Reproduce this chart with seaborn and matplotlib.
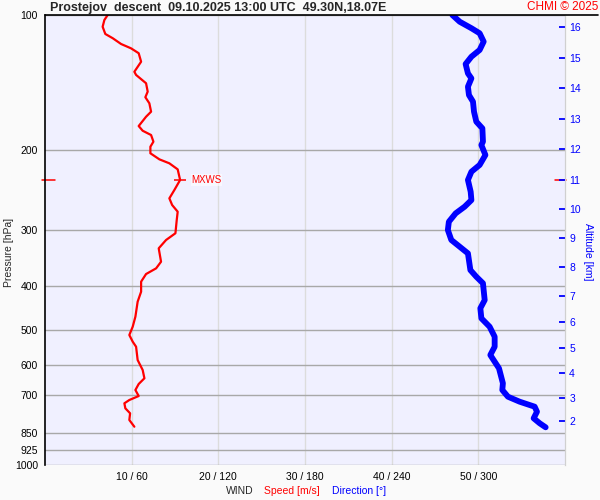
import numpy as np
import matplotlib
matplotlib.use("Agg")
import matplotlib.pyplot as plt
import matplotlib.transforms as mtransforms
from matplotlib.lines import Line2D
from matplotlib.ticker import NullLocator
import seaborn as sns

sns.set_style("white")
plt.rcParams['font.family'] = ['Liberation Sans', 'DejaVu Sans']

# wind speed profile (hPa, m/s)
speed_p = [100, 102.6, 106.2, 110.2, 112.6, 116.0, 118.6, 121.6, 127.0, 133.7,
           135.9, 141.8, 148.0, 152.3, 157.1, 164.0, 168.3, 176.5, 180.8, 184.8,
           191.2, 196.2, 202.9, 209.3, 213.6, 220.3, 232.6, 244.8, 255.5, 264.4,
           273.6, 285.5, 305.5, 316.2, 330.0, 353.4, 365.6, 376.4, 391.4, 412.0,
           433.6, 468.2, 492.8, 514.2, 532.1, 546.0, 584.4, 615.0, 641.7, 660.7,
           681.3, 702.6, 717.1, 729.3, 748.2, 767.6, 794.3, 822.1]
speed_ms = [7.23, 6.85, 6.65, 6.96, 7.81, 8.78, 9.93, 10.81, 11.09, 10.31,
            10.51, 11.66, 11.85, 11.58, 12.04, 12.24, 11.66, 10.81, 11.27, 12.24,
            12.51, 12.16, 12.16, 13.2, 14.35, 15.31, 15.59, 14.93, 14.35, 14.67,
            15.31, 15.2, 15.05, 13.97, 13.12, 13.39, 12.82, 11.66, 11.09, 11.09,
            10.69, 10.43, 10.12, 9.73, 10.12, 10.51, 10.69, 11.27, 11.47, 10.81,
            10.43, 10.81, 9.73, 9.16, 9.27, 9.82, 9.73, 10.31]

# wind direction profile (hPa, deg)
dir_p = [100, 103.5, 107.0, 109.8, 114.6, 119.6, 123.8, 128.5, 134.8, 138.3,
         144.3, 150.6, 155.8, 164.0, 172.6, 178.6, 191.2, 194.5, 204.7, 215.4,
         223.0, 232.6, 247.0, 257.8, 266.7, 275.9, 288.0, 300.5, 316.2, 327.3,
         338.6, 368.8, 381.6, 394.6, 430.0, 448.5, 472.1, 492.8, 518.7, 546.0,
         569.6, 589.4, 609.7, 658.3, 681.3, 705.1, 723.3, 742.0, 761.4, 787.4,
         807.8, 824.6]
dir_deg = [282.0, 287.1, 295.2, 300.9, 303.7, 300.9, 295.2, 291.2, 292.8, 295.2,
           292.8, 293.5, 296.3, 297.0, 298.6, 302.8, 303.2, 302.1, 304.9, 300.9,
           295.2, 292.8, 294.7, 295.2, 290.5, 284.3, 279.6, 278.9, 281.3, 287.1,
           292.8, 294.5, 298.6, 303.2, 304.4, 301.4, 302.1, 307.8, 311.3, 311.3,
           308.3, 311.3, 314.3, 317.0, 316.6, 320.5, 328.6, 339.0, 340.6, 338.3,
           342.5, 346.6]

p_ticks = [100, 200, 300, 400, 500, 600, 700, 850, 925, 1000]
speed_ticks = [10, 20, 30, 40, 50]
dir_ticks = [60, 120, 180, 240, 300]
alt_km = [16, 15, 14, 13, 12, 11, 10, 9, 8, 7, 6, 5, 4, 3, 2]
alt_p = [106.3, 124.8, 145.5, 170.2, 198.7, 232.3, 270.3, 313, 363, 420.5,
         481, 549, 623.5, 709, 798]

title = "Prostejov  descent  09.10.2025 13:00 UTC  49.30N,18.07E"

fig = plt.figure(figsize=(6, 5), dpi=100, facecolor="#fafafa")
ax = fig.add_axes([45 / 600, 35 / 500, 520 / 600, 450 / 500])
ax.set_facecolor("#f0f0ff")

# speed (red)
sns.lineplot(x=speed_ms, y=speed_p, orient="y", sort=False, estimator=None,
             color="red", linewidth=1.6, ax=ax)

# direction (blue) on a hidden twin x axis, 0..360
ax2 = ax.twiny()
sns.lineplot(x=dir_deg, y=dir_p, orient="y", sort=False, estimator=None,
             color="blue", linewidth=4.2, solid_capstyle="round", ax=ax2)
ax2.set_xlim(0, 360)
ax2.axis("off")

ax.set_yscale("log")
ax.set_ylim(1000, 100)
ax.set_xlim(0, 60)
ax.set_yticks(p_ticks, labels=[str(p) for p in p_ticks])
ax.yaxis.set_minor_locator(NullLocator())
ax.set_xticks(speed_ticks, labels=[f"{s} / {d}" for s, d in zip(speed_ticks, dir_ticks)])
ax.tick_params(length=0, labelsize=7.5, pad=5, colors="black")
ax.grid(axis="y", color="#a8a8a8", linewidth=1)
ax.grid(axis="x", color="#dcdcdc", linewidth=1)
ax.set_xlabel("")
ax.set_ylabel("Pressure [hPa]", fontsize=7.5)
ax.yaxis.set_label_coords(-31 / 520, 0.473)
for side in ["top", "bottom"]:
    ax.spines[side].set_visible(False)
ax.spines["left"].set_color("black")
ax.spines["left"].set_linewidth(1.2)
ax.spines["right"].set_color("#d0d0d0")

# altitude axis (right)
ax3 = ax.twinx()
ax3.set_yscale("log")
ax3.set_ylim(1000, 100)
ax3.set_yticks(alt_p, labels=[str(k) for k in alt_km])
ax3.yaxis.set_minor_locator(NullLocator())
ax3.tick_params(axis="y", direction="in", length=4.5, width=1.3, color="blue",
                labelcolor="blue", labelsize=7.5, pad=3)
ax3.set_ylabel("Altitude [km]", color="blue", fontsize=7.5, rotation=-90, va="center")
ax3.yaxis.set_label_coords(1 + 23 / 520, 0.473)
for side in ["top", "bottom", "left"]:
    ax3.spines[side].set_visible(False)
ax3.spines["right"].set_color("#d0d0d0")

ax.set_ylim(1000, 100)

# maximum wind speed marker
i_max = int(np.argmax(speed_ms))
p_max, s_max = speed_p[i_max], speed_ms[i_max]
blend = mtransforms.blended_transform_factory(ax.transAxes, ax.transData)
ax.plot([-3 / 520, 10 / 520], [p_max, p_max], transform=blend, color="red",
        linewidth=1.1, clip_on=False)
ax.plot([1 - 10 / 520, 1 + 1 / 520], [p_max, p_max], transform=blend, color="red",
        linewidth=1.1, clip_on=False)
ax.plot([s_max], [p_max], marker="_", markersize=8.5, markeredgewidth=1.1, color="red")
ax.annotate("MXWS", (s_max, p_max), xytext=(8, 0), textcoords="offset points",
            va="center", ha="left", color="red", fontsize=7,
            bbox=dict(facecolor="white", edgecolor="none", alpha=0.6, pad=0.5))

# header and footer texts
fig.add_artist(Line2D([45 / 600, 598 / 600], [1 - 15 / 500, 1 - 15 / 500],
                      color="black", linewidth=1.2))
fig.text(50 / 600, 1 - 7.5 / 500, title, fontsize=9, fontweight="bold", va="center")
fig.text(598 / 600, 1 - 7.5 / 500, "CHMI © 2025", fontsize=8.5, color="red",
         ha="right", va="center")
fig.text(226 / 600, 1 - 491 / 500, "WIND", fontsize=7.5, va="center")
fig.text(264 / 600, 1 - 491 / 500, "Speed [m/s]", fontsize=7.5, color="red", va="center")
fig.text(332 / 600, 1 - 491 / 500, "Direction [°]", fontsize=7.5, color="blue", va="center")

fig.savefig("out.png", dpi=100, facecolor=fig.get_facecolor())
